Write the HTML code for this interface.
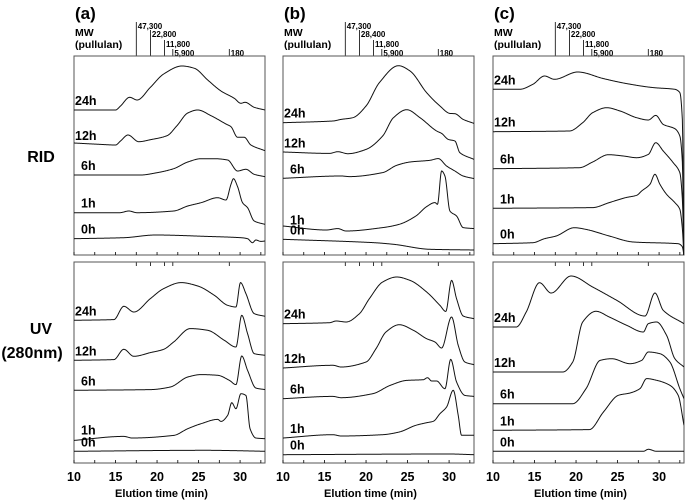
<!DOCTYPE html>
<html><head><meta charset="utf-8"><style>
html,body{margin:0;padding:0;background:#fff;}
svg{display:block;font-family:"Liberation Sans",Arial,sans-serif;}
</style></head><body>
<svg id="chart" width="685" height="501" viewBox="0 0 685 501"></svg>
<script>
// ---- data (elution time in min, signal height in px-units) ----
const xTicks = [10,15,20,25,30];
const panelTitles = ["(a)","(b)","(c)"];
const seriesLabels = ["24h","12h","6h","1h","0h"];
const mwTimes = [17.5,19.2,20.9,21.9,28.7];
const mwLabelsA = ["47,300","22,800","11,800","5,900","180"];
const mwLabelsB = ["47,300","28,400","11,800","5,900","180"];
const mwLabelsC = ["47,300","22,800","11,800","5,900","180"];

// Panel (a) RID
const ridA24t=[10,15,15.6,16.7,17.6,19.2,20.8,23,24.5,26.1,27.7,29.3,30.1,30.6,31.7,33];
const ridA24v=[0,0,4,12.7,10,22.7,36,44,41.7,30,19,11.7,6.7,7.7,2.7,0];
const ridA12t=[10,13,15,15.6,16.5,17.8,19.2,21.2,22.4,23.7,24.9,26.5,28.3,28.9,29.7,30.5,31.3,33];
const ridA12v=[2,0.7,0,4,10,3.3,5.3,9.3,19.3,32,35,29.3,21,18.3,7.7,7.7,0,-5.7];
const ridA6t=[10,18,20,22,23.7,25.3,26.9,28.5,29.7,30.7,31.7,33];
const ridA6v=[0,0,2.3,6.3,13,16.3,16.3,15,4,5.7,0.7,-1.7];
const ridA1t=[10,15.5,16.6,17.6,22,23.7,25.3,27.3,28.3,28.9,29.2,29.7,30.3,30.9,31.7,33];
const ridA1v=[0,0,1.7,0,1.7,6.7,10,15,12.7,28.3,34,26,10,5,-8.3,-11.7];
const ridA0t=[10,16,19.8,26,30.1,30.9,31.5,31.9,32.5,33];
const ridA0v=[0,1,3.7,2.3,1,0,-4,-1.3,-2.7,-2.3];
// Panel (b) RID
const ridB24t=[10,16,17,18.4,20,21.6,23.9,25.3,27.3,28.9,30.1,30.7,31.7,33];
const ridB24v=[0,1.7,3.3,5,16.7,40,57,51.7,30,16.7,9.3,9,3.3,-0.7];
const ridB12t=[10,15.6,16.6,17.8,20,22,23.3,24.9,26.5,28.5,29.1,29.9,30.7,31.3,33];
const ridB12v=[0.7,-0.7,1,-1,3.3,16.7,35,43,35,21.7,19.3,13.3,11.7,0,-6.7];
const ridB6t=[10,17,18,22,23.7,25.3,27.7,28.7,29.7,30.7,31.7,33];
const ridB6v=[0,2.3,1.7,5.7,13,16.3,18,19.7,12.3,7.3,2.3,-0.3];
const ridB1t=[10,15.2,16.6,17.6,22,24,26,27.3,28.3,28.6,29.1,29.5,30.1,30.9,31.7,33];
const ridB1v=[3.3,-0.7,0.7,-1.7,1.7,5,13.3,22.7,26.7,25,58.3,53.3,18.3,13.3,1.7,0.7];
const ridB0t=[10,20.8,23.3,27.7,33];
const ridB0v=[0,-3.3,-5,-10,-10.7];
// Panel (c) RID
const ridC24t=[10,13.2,14.8,16.2,17.4,20.2,23.3,26.1,29.3,31.9,32.5,32.8,33];
const ridC24v=[0,0,5,13.3,10,17.3,10.7,5.7,1.7,0,-3.3,-30,-170];
const ridC12t=[10,19.2,20.8,22,23.7,25.3,27.3,28.7,29.6,30.5,31.9,32.5,32.8,33];
const ridC12v=[0,0.7,9,19,24,20.7,14,11.7,16.3,7.3,3,-4.3,-30,-130];
const ridC6t=[10,20.4,22,23.9,25.7,27.3,28.7,29.6,30.5,31.7,32.5,32.8,33];
const ridC6v=[0,1,6.7,14,12.7,11,14.3,26,17.7,6,-4,-30,-90];
const ridC1t=[10,22,24,26,27.3,27.9,28.9,29.5,30.1,30.9,31.9,32.5,32.8,33];
const ridC1v=[0,0.7,5.7,10.7,13,17.3,24,34,24,14,5.7,-1,-20,-50];
const ridC0t=[10,14.8,16.2,17.6,19.8,21.2,24,26.9,32.3,32.8,33];
const ridC0v=[0,1,5,7.7,16,14.3,7.7,1.7,0,-3,-12];
// Panel (a) UV
const uvA24t=[10,14.8,16,17.2,19.2,20.8,22.9,24.9,26.9,28.5,29.5,30.05,30.7,31.7,33];
const uvA24v=[0,0.7,14,8.3,21.7,31.7,37.7,34.3,25,15,13.3,37.7,26.7,6.7,4];
const uvA12t=[10,14.8,16,17.2,19.2,20.8,22,24,26.1,28.1,29.5,30.2,30.9,31.7,33];
const uvA12v=[0,0.7,11,4,7.7,11,18.3,31.7,30,20,13.3,45,26.7,6.7,5];
const uvA6t=[10,19.2,21.6,23.7,25.3,27.3,28.7,29.5,30.2,30.9,31.9,33];
const uvA6v=[0,0.7,3.3,13.3,15.7,15,10,5.7,34.3,20,2.3,0.7];
const uvA1t=[10,16,17,22,23.7,25.3,27.3,27.7,28.5,29,29.5,30.1,30.7,31.2,31.9,33];
const uvA1v=[-0.7,3.3,1.7,4.3,11,16,20.3,18.3,24.3,37,31,46,44.3,11,1.7,1];
const uvA0t=[10,26,29,33];
const uvA0v=[0,1,0.7,0];
// Panel (b) UV
const uvB24t=[10,15.6,16.4,17.6,19.2,20.4,22,23.7,25.3,27.3,28.9,29.6,30.3,30.9,31.7,33];
const uvB24v=[0,1,2.7,1.7,10,25,41.7,46.7,43.3,31.7,18.3,12.3,43.3,25,7.7,5];
const uvB12t=[10,16,17,20,21.2,22.4,24,25.7,27.3,28.3,29.1,30.3,31.1,31.9,33];
const uvB12v=[0,2.7,1,6,19.3,36,43.3,37.7,29.3,26,20,51,22.7,6,3.3];
const uvB6t=[10,16,17,20.8,22.9,24.9,26.9,27.4,27.9,28.5,29.5,30.2,30.9,31.9,33];
const uvB6v=[0,2.3,1,5,13.3,18.3,19,21,17.7,17.7,10,39.3,16.7,3.3,2.3];
const uvB1t=[10,16,17,22,24,26,27.3,28.1,28.9,29.7,30.5,31.1,31.5,33];
const uvB1v=[0,3.3,2,3.3,6,12.7,15.3,16.7,24.3,31,47.7,22.7,2.7,2.7];
const uvB0t=[10,30,33];
const uvB0v=[0,0.7,0];
// Panel (c) UV
const uvC24t=[10,12.8,14,15.6,17,19.4,22,24.9,28.3,29.5,30.5,33];
const uvC24v=[0,0,15,44.3,34,51,40,26.7,11,34,16.7,3.3];
const uvC12t=[10,18.4,19.6,20.8,22.4,24,26.1,28.1,28.7,29.7,30.9,31.9,33];
const uvC12v=[0,0,10,50,60.7,55,46.7,40,48.3,50,36.7,13.3,5];
const uvC6t=[10,19.6,21.2,22.9,24.3,26.5,27.9,28.7,30.1,31.3,32.5,33];
const uvC6v=[0,0,15,43.3,45,40,43.3,51.7,50,41.7,15,5];
const uvC1t=[10,21.6,23.3,25.1,26.5,27.7,28.5,29.7,31.3,32.3,33];
const uvC1v=[0,0.7,18.3,35,37.3,41.7,51.7,50,45,35,5];
const uvC0t=[10,28.1,28.7,29.7,33];
const uvC0v=[0,0,2,0,0];

// ---- layout ----
const NS="http://www.w3.org/2000/svg";
const svg=document.getElementById('chart');
const panelX=[74,283,493], panelW=191;
const rows=[{top:56,bottom:255},{top:262,bottom:463}];
const tMin=10,tMax=33;
function xScale(p,t){return panelX[p]+(t-tMin)/(tMax-tMin)*panelW;}
function mk(tag,attrs,parent){const e=document.createElementNS(NS,tag);for(const k in attrs)e.setAttribute(k,attrs[k]);(parent||svg).appendChild(e);return e;}

const ridBase=[[110,145,175,212.7,238.7],[122.7,152.7,178.3,229.3,239.3],[89.3,131.7,168.7,208.3,243.7]];
const uvBase=[[320.3,360.3,390.3,439.7,451.3],[323.7,368,398.7,438,454.7],[327,372,403.7,430.3,451.3]];
const ridData=[[[ridA24t,ridA24v],[ridA12t,ridA12v],[ridA6t,ridA6v],[ridA1t,ridA1v],[ridA0t,ridA0v]],
 [[ridB24t,ridB24v],[ridB12t,ridB12v],[ridB6t,ridB6v],[ridB1t,ridB1v],[ridB0t,ridB0v]],
 [[ridC24t,ridC24v],[ridC12t,ridC12v],[ridC6t,ridC6v],[ridC1t,ridC1v],[ridC0t,ridC0v]]];
const uvData=[[[uvA24t,uvA24v],[uvA12t,uvA12v],[uvA6t,uvA6v],[uvA1t,uvA1v],[uvA0t,uvA0v]],
 [[uvB24t,uvB24v],[uvB12t,uvB12v],[uvB6t,uvB6v],[uvB1t,uvB1v],[uvB0t,uvB0v]],
 [[uvC24t,uvC24v],[uvC12t,uvC12v],[uvC6t,uvC6v],[uvC1t,uvC1v],[uvC0t,uvC0v]]];
const mwLabels=[mwLabelsA,mwLabelsB,mwLabelsC];
const mwTop=[22,30,40,49,49];

// monotone cubic interpolation
function monotone(xs,ys){
  const n=xs.length,d=[],m=new Array(n);
  for(let i=0;i<n-1;i++)d.push((ys[i+1]-ys[i])/(xs[i+1]-xs[i]));
  m[0]=d[0];m[n-1]=d[n-2];
  for(let i=1;i<n-1;i++){ m[i]=(d[i-1]*d[i]>0)?2/(1/d[i-1]+1/d[i]):0; }
  return function(x){
    let i=0;while(i<n-2&&x>xs[i+1])i++;
    const h=xs[i+1]-xs[i],s=(x-xs[i])/h;
    const h00=2*s*s*s-3*s*s+1,h10=s*s*s-2*s*s+s,h01=-2*s*s*s+3*s*s,h11=s*s*s-s*s;
    return h00*ys[i]+h10*h*m[i]+h01*ys[i+1]+h11*h*m[i+1];
  };
}

// clip paths
rows.forEach((r,ri)=>panelX.forEach((px,pi)=>{
  const cp=mk('clipPath',{id:'clip'+ri+pi});
  mk('rect',{x:px,y:r.top,width:panelW,height:r.bottom-r.top},cp);
}));

// panels
for(let pi=0;pi<3;pi++){
  const t=mk('text',{x:panelX[pi]+1,y:19,'font-size':17,'font-weight':'bold'});
  t.textContent=panelTitles[pi];
  
  
  const mw=mk('text',{x:panelX[pi]+1,y:36,'font-size':10.5,'font-weight':'bold'});mw.textContent='MW';
  
  
  const pu=mk('text',{x:panelX[pi]+1,y:48,'font-size':10.5,'font-weight':'bold'});pu.textContent='(pullulan)';
  
  
  mwTimes.forEach((mt,k)=>{
    const x=xScale(pi,mt);
    const l=mk('line',{x1:x,x2:x,y1:mwTop[k],y2:56,stroke:'#000','stroke-width':0.8});
    
    
    const lt=mk('text',{x:x+1.5,y:mwTop[k]+7,'font-size':8,'font-weight':'bold'});lt.textContent=mwLabels[pi][k];
    
    
    mk('line',{x1:x,x2:x,y1:262,y2:266,stroke:'#000','stroke-width':0.8});
  });
  rows.forEach((r,ri)=>{
    const fr=mk('rect',{x:panelX[pi],y:r.top,width:panelW,height:r.bottom-r.top,fill:'none',stroke:'#555','stroke-width':1});
    
    
    for(let tt=10;tt<=33;tt+=2.5){
      const x=xScale(pi,tt);
      mk('line',{x1:x,x2:x,y1:r.bottom,y2:r.bottom-3,stroke:'#000','stroke-width':0.8});
    }
    const data=ri?uvData[pi]:ridData[pi], base=ri?uvBase[pi]:ridBase[pi];
    data.forEach((sd,si)=>{
      const f=monotone(sd[0],sd[1]);
      let d='';
      for(let tt=10;tt<=33.001;tt+=0.05){
        const x=xScale(pi,tt),y=base[si]-f(Math.min(tt,33));
        d+=(d?'L':'M')+x.toFixed(2)+','+y.toFixed(2);
      }
      const p=mk('path',{d:d,fill:'none',stroke:'#111','stroke-width':1,'clip-path':'url(#clip'+ri+pi+')'});
      
      
      const lab=mk('text',{x:panelX[pi]+(si<2?1:7),y:base[si]-5,'font-size':12.5,'font-weight':'bold'});
      lab.textContent=seriesLabels[si];
      
      
    });
  });
  xTicks.forEach(v=>{
    const tl=mk('text',{x:xScale(pi,v),y:481,'font-size':12.5,'font-weight':'bold','text-anchor':'middle'});
    tl.textContent=v;
    
    
  });
  const xt=mk('text',{x:panelX[pi]+panelW/2-8,y:497,'font-size':11,'font-weight':'bold','text-anchor':'middle'});
  xt.textContent='Elution time (min)';
  
  
}
const rid=mk('text',{x:41,y:162,'font-size':16,'font-weight':'bold','text-anchor':'middle'});rid.textContent='RID';


const uv=mk('text',{x:41,y:334,'font-size':16,'font-weight':'bold','text-anchor':'middle'});uv.textContent='UV';


const nm=mk('text',{x:32,y:358,'font-size':16,'font-weight':'bold','text-anchor':'middle'});nm.textContent='(280nm)';


</script>
</body></html>
